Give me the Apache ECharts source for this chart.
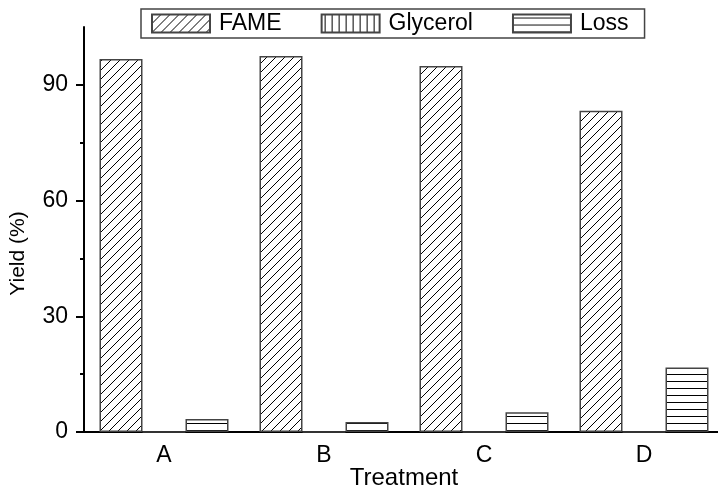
<!DOCTYPE html>
<html>
<head>
<meta charset="utf-8">
<script src="https://cdn.jsdelivr.net/npm/echarts@6.0.0/dist/echarts.min.js"></script>
<style>
html,body{margin:0;padding:0;background:#fff;}
#chart{width:718px;height:492px;}
</style>
</head>
<body>
<div id="chart"></div>
<script>
const categories = ['A', 'B', 'C', 'D'];
const seriesNames = ['FAME', 'Glycerol', 'Loss'];
const fame = [96.7, 97.5, 94.9, 83.3];
const glycerol = [0, 0, 0, 0];
const loss = [3.4, 2.6, 5.1, 16.7];
const yMajorTicks = [0, 30, 60, 90];
const yMinorTicks = [15, 45, 75];

function hatch(kind) {
  const c = document.createElement('canvas');
  const ctx = c.getContext('2d');
  ctx.strokeStyle = '#3a3a3a';
  ctx.lineWidth = 1;
  if (kind === 'diag') {
    const s = 9;
    c.width = s; c.height = s;
    ctx.fillStyle = '#fff'; ctx.fillRect(0, 0, s, s);
    ctx.beginPath();
    ctx.moveTo(-1, s + 1); ctx.lineTo(s + 1, -1);
    ctx.moveTo(-2, 2); ctx.lineTo(2, -2);
    ctx.moveTo(s - 2, s + 2); ctx.lineTo(s + 2, s - 2);
    ctx.stroke();
  } else if (kind === 'vert') {
    c.width = 7; c.height = 7;
    ctx.fillStyle = '#fff'; ctx.fillRect(0, 0, 7, 7);
    ctx.beginPath(); ctx.moveTo(3.5, 0); ctx.lineTo(3.5, 7); ctx.stroke();
  } else {
    c.width = 7; c.height = 7;
    ctx.fillStyle = '#fff'; ctx.fillRect(0, 0, 7, 7);
    ctx.beginPath(); ctx.moveTo(0, 3.5); ctx.lineTo(7, 3.5); ctx.stroke();
  }
  return { image: c, repeat: 'repeat' };
}

const FONT = 'Liberation Sans, Arial, sans-serif';
const chart = echarts.init(document.getElementById('chart'), null, { renderer: 'canvas' });

function barSeries(name, data, kind) {
  return {
    name: name,
    type: 'bar',
    data: data,
    xAxisIndex: 0,
    yAxisIndex: 0,
    barWidth: 43,
    barGap: '0%',
    itemStyle: { color: hatch(kind), borderColor: '#444', borderWidth: 1.5 },
    emphasis: { disabled: true }
  };
}

chart.setOption({
  animation: false,
  backgroundColor: '#fff',
  textStyle: { fontFamily: FONT },
  grid: { left: 84, top: 27, width: 640, bottom: 60, containLabel: false, outerBoundsMode: 'none' },
  legend: {
    left: 141, top: 9,
    data: seriesNames,
    icon: 'rect',
    itemWidth: 58, itemHeight: 18, itemGap: 39,
    padding: [3, 16, 3, 10],
    borderColor: '#444', borderWidth: 1.5,
    textStyle: { fontFamily: FONT, fontSize: 23, color: '#000', lineHeight: 22, padding: [0, 0, 0, 4] }
  },
  xAxis: [
    {
      type: 'category', data: categories, position: 'bottom',
      name: 'Treatment', nameLocation: 'middle', nameGap: 34, nameMoveOverlap: false,
      nameTextStyle: { fontFamily: FONT, fontSize: 24, color: '#000' },
      axisLine: { lineStyle: { color: '#000', width: 2 } },
      axisTick: { alignWithLabel: true, length: 8, lineStyle: { color: '#000', width: 2 } },
      axisLabel: { fontFamily: FONT, fontSize: 23, color: '#000', margin: 12 },
      splitLine: { show: false }
    },
    {
      type: 'category', data: categories, position: 'bottom', offset: 0,
      axisLine: { show: false },
      axisTick: { alignWithLabel: false, length: 4, lineStyle: { color: '#000', width: 2 } },
      axisLabel: { show: false },
      splitLine: { show: false }
    }
  ],
  yAxis: [
    {
      type: 'value', min: 0, max: 105, interval: 15, position: 'left',
      name: 'Yield (%)', nameLocation: 'middle', nameGap: 55, nameMoveOverlap: false,
      nameTextStyle: { fontFamily: FONT, fontSize: 21, color: '#000', padding: [0, 48, 0, 0] },
      axisLine: { show: true, lineStyle: { color: '#000', width: 2 } },
      axisTick: { show: true, length: 8, customValues: yMajorTicks, lineStyle: { color: '#000', width: 2 } },
      axisLabel: { fontFamily: FONT, fontSize: 23, color: '#000', margin: 16, customValues: yMajorTicks },
      splitLine: { show: false }
    },
    {
      type: 'value', min: 0, max: 105, interval: 15, position: 'left', offset: 0,
      axisLine: { show: false },
      axisTick: { show: true, length: 4, customValues: yMinorTicks, lineStyle: { color: '#000', width: 2 } },
      axisLabel: { show: false },
      splitLine: { show: false }
    }
  ],
  series: [
    barSeries(seriesNames[0], fame, 'diag'),
    barSeries(seriesNames[1], glycerol, 'vert'),
    barSeries(seriesNames[2], loss, 'horiz')
  ]
});
</script>
</body>
</html>
